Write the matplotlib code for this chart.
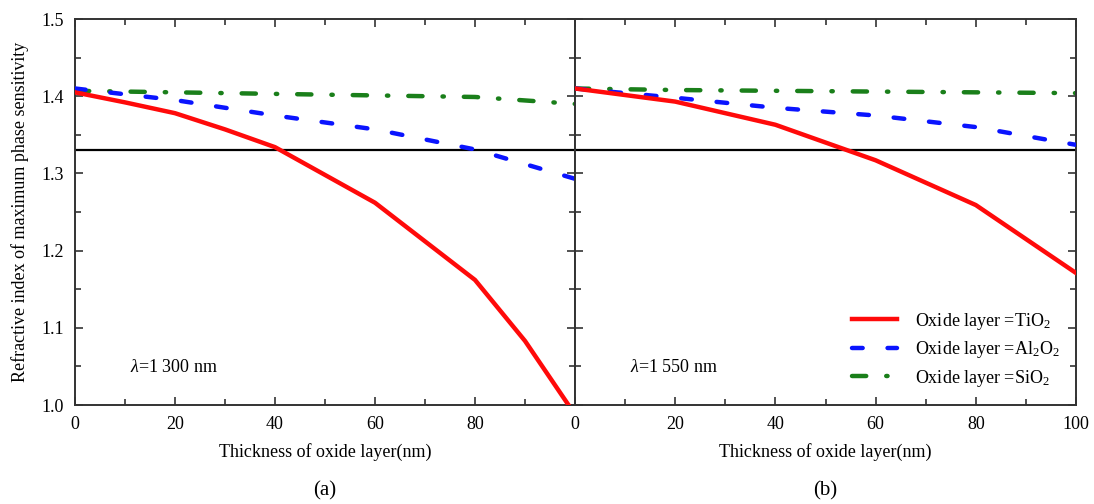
import numpy as np
import matplotlib
matplotlib.use("Agg")
from matplotlib import pyplot as plt
from matplotlib.ticker import MultipleLocator

plt.rcParams['font.family'] = ['Liberation Serif', 'DejaVu Serif']
plt.rcParams['mathtext.fontset'] = 'custom'
plt.rcParams['mathtext.rm'] = 'Liberation Serif'
plt.rcParams['mathtext.it'] = 'Liberation Serif:italic'
plt.rcParams['mathtext.default'] = 'regular'

# thickness of oxide layer (nm)
espessura = [0, 20, 40, 60, 80, 100]
espessura_ti_a = [0, 10, 20, 30, 40, 50, 60, 70, 80, 90, 98.7]

# (a) lambda = 1300 nm
ti_a = [1.405, 1.392, 1.378, 1.357, 1.334, 1.298, 1.262, 1.212, 1.162, 1.083, 1.0]
al_a = [1.410, 1.395, 1.375, 1.357, 1.331, 1.293]
si_a = [1.407, 1.405, 1.403, 1.401, 1.399, 1.390]

# (b) lambda = 1550 nm
ti_b = [1.410, 1.393, 1.363, 1.317, 1.259, 1.171]
al_b = [1.410, 1.398, 1.385, 1.375, 1.360, 1.337]
si_b = [1.410, 1.408, 1.407, 1.406, 1.405, 1.404]

agua = 1.33

fig = plt.figure(figsize=(10.94, 5.04), dpi=100)
ax1 = fig.add_axes([75/1094, 99/504, 500/1094, 386/504])
ax2 = fig.add_axes([575/1094, 99/504, 501/1094, 386/504])

cor_eixo = '#333333'

def desenha(ax, x_ti, ti, al, si, texto):
    ax.axhline(agua, color='black', lw=1.6, zorder=1)
    ax.plot(espessura, si, color='#1a7f1a', lw=3.2, dashes=(3.2, 4.5, 0.3, 4.5),
            solid_capstyle='round', dash_capstyle='round', label='Oxide layer =SiO$_2$', zorder=2)
    ax.plot(espessura, al, color='#0a14ff', lw=3.2, dashes=(2.4, 5.6),
            dash_capstyle='round', label='Oxide layer =Al$_2$O$_2$', zorder=3)
    ax.plot(x_ti, ti, color='#ff0a0a', lw=3.2, solid_joinstyle='round',
            label='Oxide layer =TiO$_2$', zorder=4)
    ax.set_xlim(0, 100)
    ax.set_ylim(1.0, 1.5)
    ax.xaxis.set_major_locator(MultipleLocator(20))
    ax.xaxis.set_minor_locator(MultipleLocator(10))
    ax.yaxis.set_major_locator(MultipleLocator(0.1))
    ax.yaxis.set_minor_locator(MultipleLocator(0.05))
    ax.tick_params(which='both', direction='in', top=True, right=True,
                   color=cor_eixo, width=1.2, labelsize=13, pad=8)
    ax.tick_params(which='major', length=6)
    ax.tick_params(which='minor', length=4)
    for s in ax.spines.values():
        s.set_color(cor_eixo)
        s.set_linewidth(1.4)
    ax.set_xlabel('Thickness of oxide layer(nm)', fontsize=13, labelpad=7)
    ax.text(0.11, 0.085, texto, transform=ax.transAxes, fontsize=13)

desenha(ax1, espessura_ti_a, ti_a, al_a, si_a, r'$\mathit{\lambda}$=1 300 nm')
desenha(ax2, espessura, ti_b, al_b, si_b, r'$\mathit{\lambda}$=1 550 nm')

ax1.set_yticks([1.0, 1.1, 1.2, 1.3, 1.4, 1.5])
ax1.set_yticklabels(['1.0', '1.1', '1.2', '1.3', '1.4', '1.5'])
ax1.set_xticks([0, 20, 40, 60, 80, 100])
ax1.set_xticklabels(['0', '20', '40', '60', '80', ''])
ax1.set_ylabel('Refractive index of maximum phase sensitivity', fontsize=13, labelpad=9)
ax2.tick_params(labelleft=False)

h, l = ax2.get_legend_handles_labels()
ax2.legend(h[::-1], l[::-1], loc='lower right', bbox_to_anchor=(1.0, 0.0),
           frameon=False, fontsize=13, handlelength=2.5, handletextpad=1.0,
           labelspacing=0.42)

fig.text(ax1.get_position().x0 + ax1.get_position().width / 2, 0.026, '(a)',
         ha='center', va='center', fontsize=15)
fig.text(ax2.get_position().x0 + ax2.get_position().width / 2, 0.026, '(b)',
         ha='center', va='center', fontsize=15)

plt.savefig('out.png', dpi=100)
